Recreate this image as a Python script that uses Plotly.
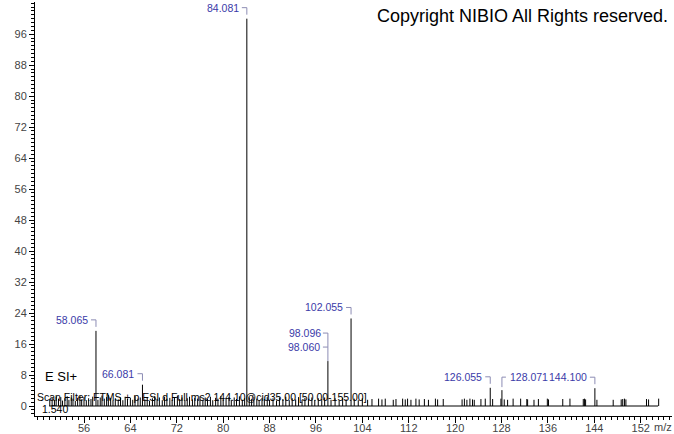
import plotly.graph_objects as go

# ---- data ----
scan_range = [50.0, 155.0]

label_mz = [58.065, 66.081, 84.081, 98.060, 102.055, 126.055, 128.071, 144.100]
label_int = [19.4, 5.5, 100.0, 11.6, 22.6, 4.7, 4.1, 4.6]
label_text = ["58.065", "66.081", "84.081", "98.060", "102.055", "126.055", "128.071", "144.100"]
label_side = ["left", "left", "left", "left", "left", "left", "right", "left"]

stacked_mz = 98.096
stacked_text = "98.096"

noise_mz = [50.1, 50.5, 50.9, 51.2, 51.6, 52.0, 52.3, 52.7, 53.1, 53.4, 53.8, 54.1, 54.5, 54.9,
            55.3, 55.6, 56.0, 56.4, 56.8, 57.2, 57.5, 58.4, 58.8, 59.1, 59.5, 59.9, 60.2, 60.6,
            61.0, 61.4, 61.9, 62.3, 62.7, 63.1, 63.5, 64.0, 64.4, 64.8, 65.3, 65.7, 66.5, 66.9,
            67.3, 67.8, 68.2, 68.6, 69.0, 69.5, 69.9, 70.3, 70.8, 71.2, 71.6, 72.1, 72.5, 72.9,
            73.4, 73.8, 74.2, 74.7, 75.1, 75.6, 76.0, 76.5, 76.9, 77.3, 77.8, 78.2, 78.7, 79.1,
            79.6, 80.0, 80.5, 81.0, 81.4, 81.9, 82.3, 82.8, 83.3, 83.7, 84.5, 84.9, 85.3, 85.8,
            86.2, 86.7, 87.1, 87.6, 88.0, 88.6, 89.2, 89.7, 90.3, 90.8, 91.4, 91.9, 92.5, 93.0,
            93.6, 94.1, 94.7, 95.3, 95.8, 96.4, 97.0, 97.5, 98.6, 99.3, 100.0, 100.6, 101.2,
            102.6, 103.3, 104.0,
            104.91, 105.66, 106.8, 107.38, 107.95, 109.33, 109.8, 110.95, 111.4, 111.8, 112.38,
            113.24, 113.8, 114.7, 115.4, 116.6, 116.98, 117.95, 121.2, 121.6, 122.03, 122.55,
            123.0, 123.3, 124.45, 125.2, 126.47, 127.9, 128.47, 129.05,
            130.0, 131.3, 132.36, 132.5, 133.6, 134.36, 135.9, 136.1, 138.56, 139.8, 142.1,
            142.3, 142.5, 144.45, 147.26, 148.64, 148.9, 149.2, 149.45, 153.0, 153.36, 155.1]
noise_int = [1.8, 2.2, 1.5, 2.4, 1.9, 2.3, 1.4, 2.0, 2.5, 1.6, 2.2, 1.9, 1.3, 2.1,
             2.6, 1.7, 2.3, 1.5, 2.0, 1.8, 2.4, 1.6, 2.2, 2.7, 1.9, 2.3, 2.8, 2.1,
             1.4, 2.0, 1.7, 2.2, 1.5, 2.4, 1.8, 2.1, 1.6, 2.5, 1.9, 2.2, 1.7, 2.3,
             1.4, 2.0, 2.6, 1.8, 2.2, 1.5, 2.4, 1.9, 2.1, 1.6, 2.3, 2.7, 1.8, 2.2,
             1.5, 2.0, 2.4, 1.7, 2.1, 1.9, 2.5, 1.6, 2.2, 1.8, 2.4, 1.5, 2.1, 1.9,
             2.6, 1.7, 2.0, 2.3, 1.6, 2.2, 1.8, 2.5, 1.6, 2.0, 2.2, 1.7, 2.4, 1.9,
             1.5, 2.1, 1.8, 2.3, 1.6, 2.0, 1.4, 2.2, 1.8, 2.4, 1.5, 2.0, 1.7, 2.3,
             1.6, 2.1, 1.9, 2.2, 1.5, 2.0, 1.8, 2.2, 1.6, 2.0, 1.4, 2.1, 1.7,
             1.9, 1.5, 2.0,
             1.6, 1.8, 1.9, 1.7, 1.9, 1.6, 1.8, 1.9, 1.7, 1.9, 1.6,
             1.9, 1.7, 1.8, 1.6, 1.9, 1.7, 1.8, 1.7, 1.9, 1.6, 1.9,
             1.7, 1.6, 1.8, 1.9, 1.8, 1.9, 1.7, 1.6,
             1.9, 1.9, 1.8, 1.7, 1.6, 1.8, 1.9, 1.7, 1.8, 1.9, 1.8,
             1.9, 1.7, 1.6, 1.6, 1.7, 1.8, 1.9, 1.7, 1.8, 1.7, 1.9]

y_ticks = list(range(0, 97, 8))
x_ticks = list(range(56, 153, 8))

copyright_text = "Copyright NIBIO All Rights reserved."
ion_mode_text = "E SI+"
scan_filter_text = "Scan Filter: FTMS + p ESI d Full ms2 144.10@cid35.00 [50.00-155.00]"
rt_text = "1.540"

LBL = "#3a3aa8"
BRK = "#8c8cb4"
FONT = "Liberation Sans, Arial, sans-serif"
X_RANGE = [47.55, 157.4]
Y_RANGE = [-2.58, 104.3]

# ---- build stick traces ----
all_mz = noise_mz + label_mz
all_int = noise_int + label_int
xs, ys = [], []
for m, h in zip(all_mz, all_int):
    xs += [m, m, None]
    ys += [0, h, None]

fig = go.Figure()
fig.add_trace(go.Scatter(x=scan_range, y=[0, 0], mode="lines",
                         line=dict(color="black", width=1), hoverinfo="skip"))
fig.add_trace(go.Scatter(x=xs, y=ys, mode="lines",
                         line=dict(color="black", width=1), hoverinfo="skip"))
# invisible trace on the overlay axis that carries the long major ticks
fig.add_trace(go.Scatter(x=scan_range, y=[0, 0], xaxis="x2", mode="lines",
                         line=dict(color="rgba(0,0,0,0)", width=0), hoverinfo="skip"))

annotations = []
shapes = []
for m, h, t, side in zip(label_mz, label_int, label_text, label_side):
    off = 11
    if t == "98.060":
        off = 14
    if side == "left":
        annotations.append(dict(x=m, y=h, xref="x", yref="y", text=t, showarrow=False,
                                xanchor="right", yanchor="middle", xshift=-6, yshift=off,
                                font=dict(family=FONT, size=10.5, color=LBL)))
        shapes.append(dict(type="path", xref="x", yref="y", xsizemode="pixel", ysizemode="pixel",
                           xanchor=m, yanchor=h,
                           path=f"M -5,{off} L 0,{off} L 0,{4 if t != '98.060' else 0}",
                           line=dict(color=BRK, width=1)))
    else:
        annotations.append(dict(x=m, y=h, xref="x", yref="y", text=t, showarrow=False,
                                xanchor="left", yanchor="middle", xshift=6, yshift=off + 2,
                                font=dict(family=FONT, size=10.5, color=LBL)))
        shapes.append(dict(type="path", xref="x", yref="y", xsizemode="pixel", ysizemode="pixel",
                           xanchor=m, yanchor=h,
                           path=f"M 4,{off + 2} L 0,{off + 2} L 0,3",
                           line=dict(color=BRK, width=1)))

# stacked label 98.096 above 98.060
i98 = label_text.index("98.060")
annotations.append(dict(x=stacked_mz, y=label_int[i98], xref="x", yref="y", text=stacked_text,
                        showarrow=False, xanchor="right", yanchor="middle", xshift=-5, yshift=28,
                        font=dict(family=FONT, size=10.5, color=LBL)))
shapes.append(dict(type="path", xref="x", yref="y", xsizemode="pixel", ysizemode="pixel",
                   xanchor=label_mz[i98], yanchor=label_int[i98],
                   path="M -5,28 L 0,28 L 0,14",
                   line=dict(color=BRK, width=1)))

annotations += [
    dict(x=0.997, y=1.0, xref="paper", yref="paper", text=copyright_text, showarrow=False,
         xanchor="right", yanchor="top", yshift=-2, font=dict(family=FONT, size=18, color="black")),
    dict(x=49.0, y=7.6, xref="x", yref="y", text=ion_mode_text, showarrow=False,
         xanchor="left", yanchor="middle", font=dict(family=FONT, size=13, color="black")),
    dict(x=47.6, y=2.4, xref="x", yref="y", text=scan_filter_text, showarrow=False,
         xanchor="left", yanchor="middle", font=dict(family=FONT, size=10.5, color="black")),
    dict(x=48.4, y=-0.9, xref="x", yref="y", text=rt_text, showarrow=False,
         xanchor="left", yanchor="middle", font=dict(family=FONT, size=10.5, color="black")),
    dict(x=1.0, y=0, xref="paper", yref="paper", text="m/z", showarrow=False,
         xanchor="right", yanchor="top", xshift=2, yshift=-3,
         font=dict(family=FONT, size=11, color="#444")),
]

fig.update_layout(
    width=674, height=434,
    margin=dict(l=35, r=2, t=2, b=18, autoexpand=False),
    paper_bgcolor="white", plot_bgcolor="white",
    showlegend=False,
    annotations=annotations,
    shapes=shapes,
    xaxis=dict(range=X_RANGE, tickvals=x_ticks, ticks="outside", ticklen=2,
               tickcolor="black", showline=True, linecolor="black", linewidth=1,
               showgrid=False, zeroline=False, automargin=False,
               tickfont=dict(family=FONT, size=11, color="#444"),
               minor=dict(dtick=1, tick0=0, ticks="outside", ticklen=3, tickcolor="black",
                          showgrid=False)),
    xaxis2=dict(range=X_RANGE, overlaying="x", side="bottom", anchor="y",
                tickvals=x_ticks, ticks="outside", ticklen=6, tickcolor="black",
                showticklabels=False, showline=False, showgrid=False, zeroline=False,
                automargin=False),
    yaxis=dict(range=Y_RANGE, tickvals=y_ticks, ticks="outside", ticklen=5,
               tickcolor="black", showline=True, linecolor="black", linewidth=1,
               showgrid=False, zeroline=False, automargin=False,
               tickfont=dict(family=FONT, size=11, color="#444"),
               minor=dict(dtick=1, tick0=0, ticks="outside", ticklen=3, tickcolor="black",
                          showgrid=False)),
)

fig.write_html("out.html", config={"displayModeBar": False},
               post_script="document.body.style.margin='0';document.body.style.overflow='hidden';")
